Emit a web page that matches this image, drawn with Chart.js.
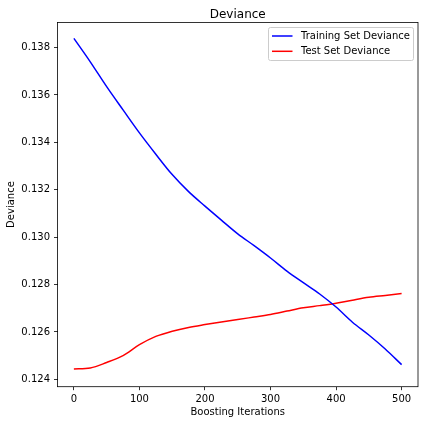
<!DOCTYPE html>
<html>
<head>
<meta charset="utf-8">
<script src="https://cdn.jsdelivr.net/npm/chart.js@4.4.0/dist/chart.umd.min.js"></script>
<style>
html,body{margin:0;padding:0;background:#fff;}
#wrap{width:424px;height:424px;}
</style>
</head>
<body>
<div id="wrap"><canvas id="c" width="424" height="424"></canvas></div>
<script>
const iterations = [0,25,50,75,100,125,150,175,200,225,250,275,300,325,350,375,400,425,450,475,500];
const trainDeviance = [0.13839,0.13740,0.13635,0.13537,0.13440,0.13350,0.13264,0.13192,0.13131,0.13072,0.13014,0.12964,0.12912,0.12857,0.12808,0.12760,0.12705,0.12641,0.12587,0.12528,0.12462];
const testDeviance = [0.12444,0.12448,0.12471,0.12500,0.12546,0.12581,0.12603,0.12619,0.12631,0.12642,0.12652,0.12663,0.12674,0.12688,0.12702,0.12711,0.12721,0.12734,0.12746,0.12754,0.12762];
const xTicks = [0,100,200,300,400,500];
const yTicks = [0.124,0.126,0.128,0.130,0.132,0.134,0.136,0.138];
const seriesLabels = ['Training Set Deviance','Test Set Deviance'];
const seriesColors = ['#0000ff','#ff0000'];

const FONT = 'DejaVu Sans';

const framePlugin = {
  id: 'frame',
  afterDraw(chart) {
    const {ctx, chartArea: a} = chart;
    ctx.save();
    ctx.strokeStyle = '#000';
    ctx.lineWidth = 0.8;
    ctx.strokeRect(a.left, a.top, a.right - a.left, a.bottom - a.top);
    // legend
    const bx = 268.5, by = 27.5, bw = 145, bh = 33;
    ctx.fillStyle = 'rgba(255,255,255,0.8)';
    ctx.strokeStyle = '#cccccc';
    ctx.lineWidth = 1;
    ctx.beginPath();
    ctx.roundRect(bx, by, bw, bh, 2);
    ctx.fill();
    ctx.stroke();
    ctx.font = '10px "' + FONT + '"';
    ctx.textBaseline = 'middle';
    ctx.textAlign = 'left';
    chart.data.datasets.forEach((ds, i) => {
      const y = by + 8.5 + i * 15.3;
      ctx.strokeStyle = ds.borderColor;
      ctx.lineWidth = 1.5;
      ctx.beginPath();
      ctx.moveTo(bx + 3.5, y);
      ctx.lineTo(bx + 24, y);
      ctx.stroke();
      ctx.fillStyle = '#000';
      ctx.fillText(ds.label, bx + 32.5, y);
    });
    ctx.restore();
  }
};

new Chart(document.getElementById('c'), {
  type: 'line',
  data: {
    datasets: [
      {label: seriesLabels[0], data: iterations.map((x,i)=>({x:x, y:trainDeviance[i]})), borderColor: seriesColors[0], borderWidth: 1.5, pointRadius: 0, cubicInterpolationMode: 'monotone', fill: false},
      {label: seriesLabels[1], data: iterations.map((x,i)=>({x:x, y:testDeviance[i]})), borderColor: seriesColors[1], borderWidth: 1.5, pointRadius: 0, cubicInterpolationMode: 'monotone', fill: false}
    ]
  },
  options: {
    responsive: false,
    animation: false,
    devicePixelRatio: 1,
    layout: {padding: {left: 0, right: 6, top: 0, bottom: 0}},
    plugins: {
      legend: {display: false},
      tooltip: {enabled: false},
      title: {
        display: true, text: 'Deviance', fullSize: false,
        color: '#000', font: {family: FONT, size: 12, weight: 'normal'},
        padding: {top: 7.5, bottom: 0.5}
      }
    },
    scales: {
      x: {
        type: 'linear', min: -25, max: 525,
        afterBuildTicks: s => { s.ticks = xTicks.map(v => ({value: v})); },
        afterFit: s => { s.height = 37.3; },
        border: {display: false},
        grid: {drawOnChartArea: false, drawTicks: true, tickLength: 3.5, color: '#000', lineWidth: 0.8},
        ticks: {color: '#000', font: {family: FONT, size: 10}, padding: 3, maxRotation: 0, callback: v => String(v)},
        title: {display: true, text: 'Boosting Iterations', color: '#000', font: {family: FONT, size: 10}, padding: {top: 0, bottom: 5.7}}
      },
      y: {
        type: 'linear', min: 0.123688, max: 0.139064,
        afterBuildTicks: s => { s.ticks = yTicks.map(v => ({value: v})); },
        afterFit: s => { s.width = 57.5; },
        border: {display: false},
        grid: {drawOnChartArea: false, drawTicks: true, tickLength: 3.5, color: '#000', lineWidth: 0.8},
        ticks: {color: '#000', font: {family: FONT, size: 10}, padding: 4, callback: v => Number(v).toFixed(3)},
        title: {display: true, text: 'Deviance', color: '#000', font: {family: FONT, size: 10}, padding: {top: 5.5, bottom: 0}}
      }
    }
  },
  plugins: [framePlugin]
});
</script>
</body>
</html>
